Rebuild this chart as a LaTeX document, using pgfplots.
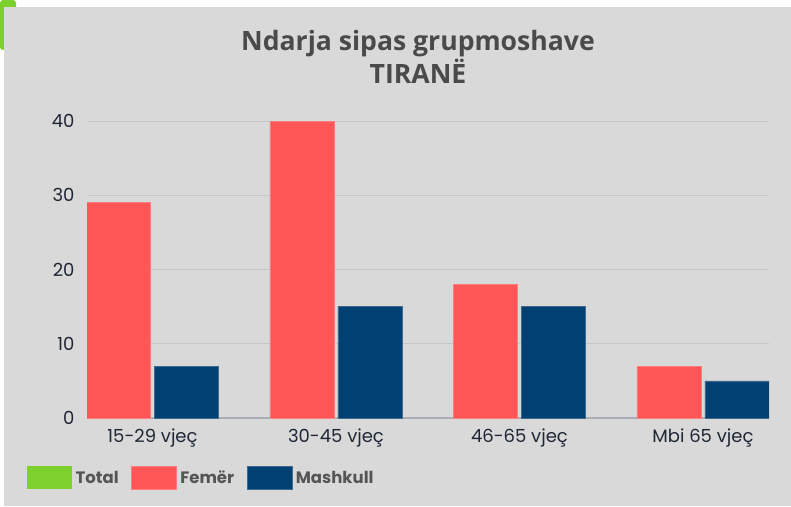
\documentclass[border=0pt]{standalone}
\usepackage{pgfplots}
\pgfplotsset{compat=1.18}
\usepackage{fontspec}
\setmainfont{Poppins}
\newfontfamily\titlefont{Open Sans}
\definecolor{bg}{HTML}{D9D9D9}
\definecolor{tabgreen}{HTML}{7ED02C}
\definecolor{fem}{HTML}{FF5757}
\definecolor{femedge}{HTML}{FF7C7C}
\definecolor{mas}{HTML}{004072}
\definecolor{masedge}{HTML}{3F6A8E}
\definecolor{gridc}{HTML}{C3C6CA}
\definecolor{basec}{HTML}{A9AEB4}
\definecolor{tickc}{HTML}{1E2735}
\definecolor{titlec}{HTML}{4A4A4A}
\definecolor{legc}{HTML}{555555}
\begin{document}
\begin{tikzpicture}[x=1pt,y=1pt]
\useasboundingbox (0,0) rectangle (791,506);
\fill[white] (0,0) rectangle (791,506);
\fill[tabgreen, rounded corners=3pt] (0,456) rectangle (16,506);
\fill[bg] (4,0) rectangle (791,499);
\node[font=\titlefont\bfseries\fontsize{26.6}{33}\selectfont, text=titlec, align=center] at (418,449.5) {Ndarja sipas grupmoshave\\TIRANË};
\begin{axis}[
  at={(87pt,88pt)}, anchor=south west,
  scale only axis, width=682pt, height=297pt,
  xmin=-0.357, xmax=3.36, ymin=0, ymax=40,
  ybar=4pt, bar width=64pt,
  axis x line=bottom, axis y line=left,
  axis line style={-},
  x axis line style={draw=basec, line width=1.5pt},
  y axis line style={draw=none},
  major tick length=0pt,
  ytick={0,10,20,30,40},
  ymajorgrids, grid style={draw=gridc, line width=1pt},
  xtick={0,1,2,3},
  xticklabels={15-29 vjeç,30-45 vjeç,46-65 vjeç,Mbi 65 vjeç},
  /pgf/number format/assume math mode=true,
  tick label style={font=\fontsize{18}{21}\selectfont, text=tickc},
  yticklabel style={xshift=-9pt},
  xticklabel style={yshift=-7pt},
  legend columns=3,
  legend style={at={(axis description cs:-0.088,-0.202)}, anchor=west,
    draw=none, fill=none, inner sep=0pt,
    font=\bfseries\fontsize{16.5}{19}\selectfont, text=legc,
    /tikz/every odd column/.append style={column sep=1.5pt},
    /tikz/every even column/.append style={column sep=10.5pt}},
  legend image code/.code={\fill[#1] (0pt,-11.5pt) rectangle (45pt,11.5pt);},
]
\addlegendimage{fill=tabgreen, draw=none}
\addlegendentry{Total}
\addplot[fill=fem, draw=femedge, line width=0.6pt] coordinates {(0,29) (1,40) (2,18) (3,7)};
\addlegendentry{Femër}
\addplot[fill=mas, draw=masedge, line width=0.6pt] coordinates {(0,7) (1,15) (2,15) (3,5)};
\addlegendentry{Mashkull}
\end{axis}
\end{tikzpicture}
\end{document}
